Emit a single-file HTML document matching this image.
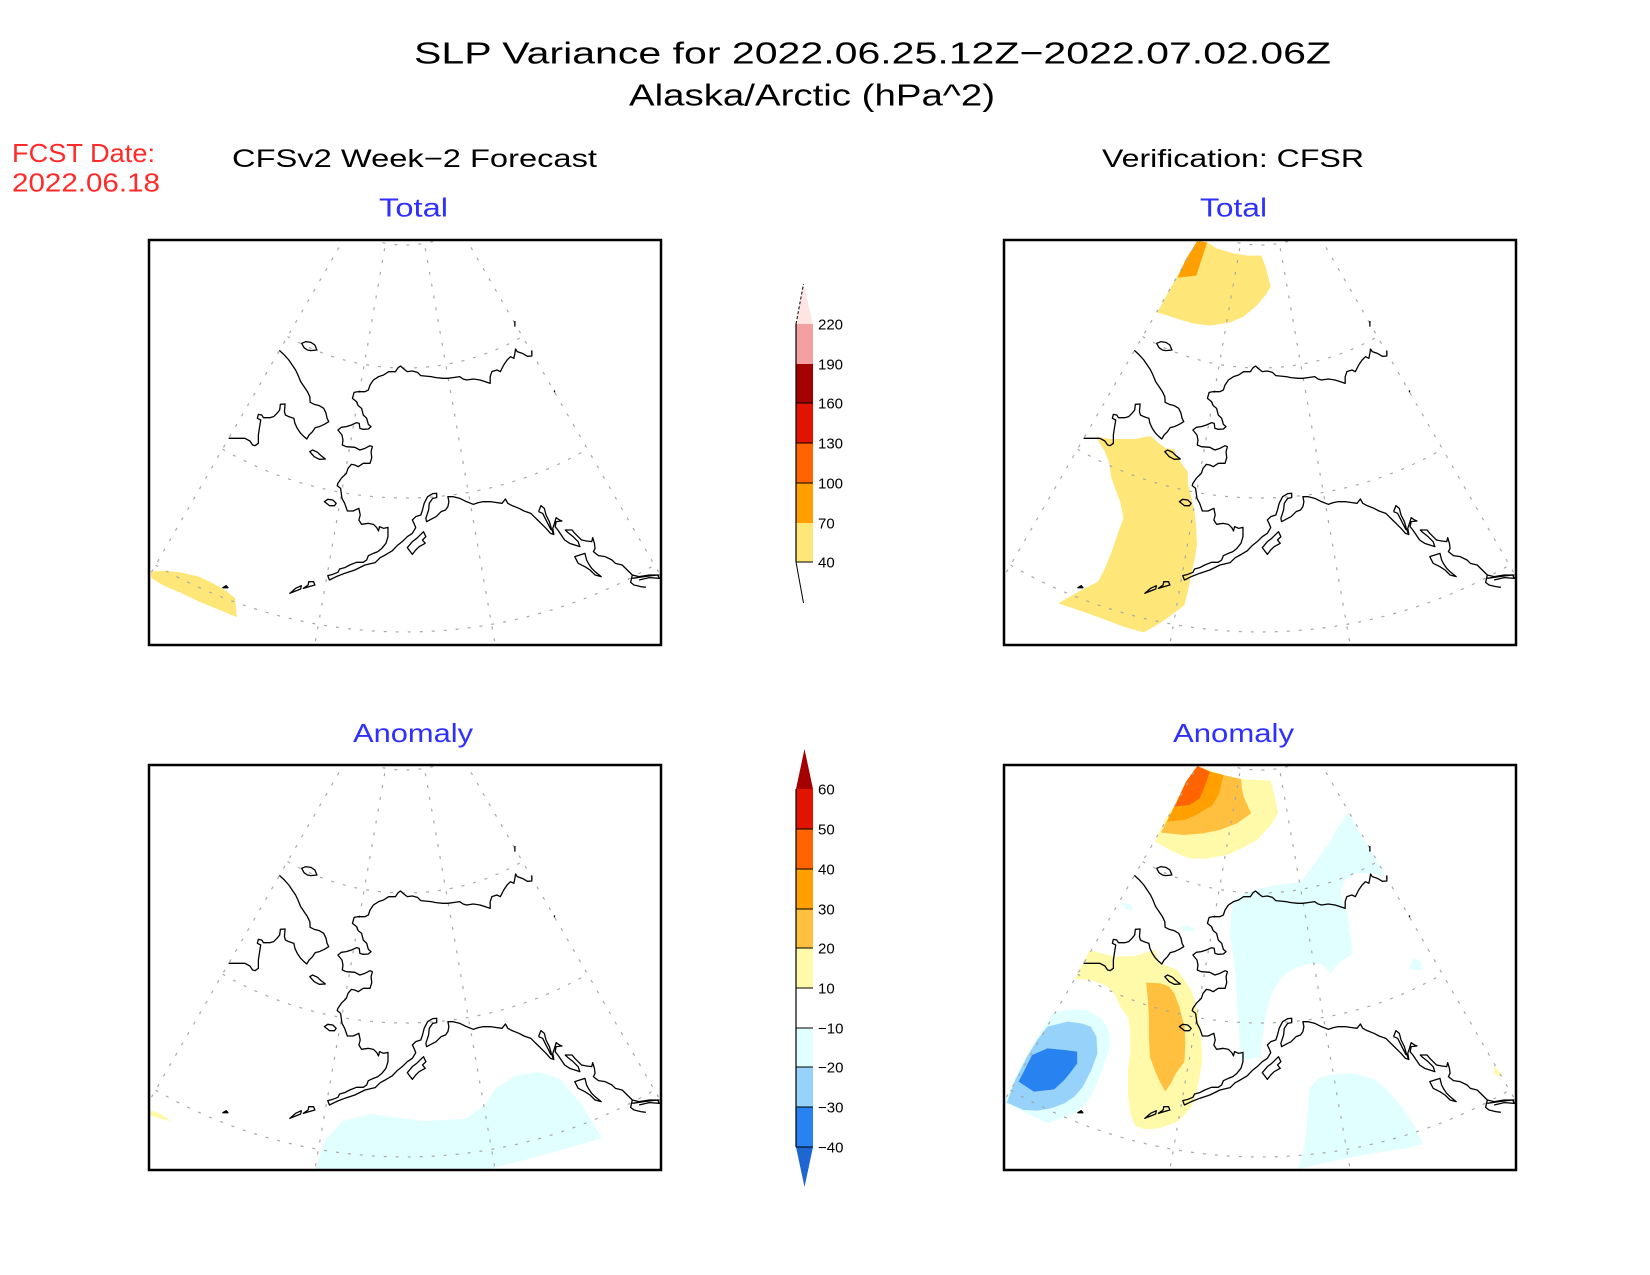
<!DOCTYPE html>
<html>
<head>
<meta charset="utf-8">
<style>
html,body{margin:0;padding:0;background:#fff;}
svg{display:block;}
text{font-family:"Liberation Sans",sans-serif;}
</style>
</head>
<body>
<svg width="1650" height="1275" viewBox="0 0 1650 1275" xmlns="http://www.w3.org/2000/svg">
<defs>
  <clipPath id="box"><rect x="0" y="0" width="512" height="405"/></clipPath>
  <g id="grid" fill="none" stroke="#a8a8a8" stroke-width="1.2" stroke-dasharray="3,9">
    <path d="M200,-10 A112,112 0 0 0 312,-10"/>
    <path d="M138.5,96.5 A235,235 0 0 0 373.5,96.5"/>
    <path d="M73.5,209.1 A365,365 0 0 0 438.5,209.1"/>
    <path d="M6.5,325.1 A499,499 0 0 0 505.5,325.1"/>
    <path d="M196,-3 L-44,412.6"/>
    <path d="M237.8,-3.6 L164,415"/>
    <path d="M274.2,-3.6 L348,415"/>
    <path d="M316,-3 L556,412.6"/>
  </g>
  <g id="coast" fill="none" stroke="#000" stroke-width="1.3" stroke-linejoin="round">
    <path vector-effect="non-scaling-stroke" d="M397,346 L410,358 L425,375 L435,390 L445,405 L452,420 L460,440 L470,455 L480,470 L487,485 L488,502 L500,508 L515,512 L528,520 L535,535 L538,550 L543,560 L530,568 L515,575 L503,578 L495,590 L485,600 L478,612 L470,605 L460,595 L450,580 L443,565 L440,550 L425,545 L415,540 L412,530 L414,507 L400,508 L398,525 L390,535 L380,545 L370,548 L350,548 L345,540 L335,538 L332,550 L342,555 L338,580 L335,600 L335,625 L325,632 L318,630 L310,618 L295,610 L247,610"/>
    <path vector-effect="non-scaling-stroke" d="M463,325 L475,320 L490,322 L502,330 L508,345 L490,347 L480,345 L470,338 Z"/>
    <path vector-effect="non-scaling-stroke" d="M1143,346 L1143,363 L1130,364 L1115,355 L1100,350 L1095,342 L1093,355 L1090,370 L1080,365 L1070,375 L1060,390 L1050,410 L1040,405 L1025,410 L1020,425 L1020,445 L1005,440 L990,435 L970,432 L950,435 L940,432 L930,425 L910,428 L895,430 L880,430 L860,428 L845,425 L815,422 L805,412 L790,408 L775,410 L765,402 L755,393 L748,398 L740,410 L720,410 L705,420 L690,425 L675,435 L665,450 L660,465 L650,470 L630,470 L618,472 L613,490 L625,500 L630,512 L640,520 L645,540 L655,550 L660,568 L668,575 L660,582 L645,583 L635,580 L633,565 L625,563 L610,570 L595,575 L580,577 L570,585 L582,600 L585,615 L583,630 L595,635 L620,637 L635,645 L650,640 L665,632 L672,635 L668,650 L670,668 L665,685 L645,685 L630,695 L620,690 L610,688 L600,700 L595,715 L580,730 L570,745 L568,752 L578,760 L580,775 L582,790 L590,805 L598,828 L615,828 L632,820 L636,840 L632,855 L640,868 L660,865 L675,868 L685,878 L690,888 L693,875 L705,880 L718,877 L718,905 L712,925 L700,940 L688,950 L675,955 L660,962 L655,975 L645,982 L625,982 L605,990 L590,998 L575,1002 L570,1012 L555,1018 L540,1022 L545,1035 L565,1025 L590,1015 L620,1005 L650,990 L680,983 L695,968 L710,960 L730,948 L745,932 L760,920 L775,905 L790,895 L800,878 L795,865 L790,855 L800,845 L815,840 L820,825 L825,805 L835,785 L850,776 L862,775 L862,788 L850,790 L840,805 L838,825 L830,850 L832,860 L845,853 L860,845 L875,830 L888,825 L895,815 L898,800 L895,785 L910,785 L930,790 L950,800 L970,808 L985,803 L1000,800 L1020,800 L1040,803 L1055,805 L1065,792 L1072,805 L1085,812 L1105,820 L1120,828 L1140,835 L1150,845 L1160,855 L1170,865 L1185,880 L1198,895 L1208,898 L1205,880 L1210,865 L1215,848 L1225,855 L1232,858 L1215,860 L1212,875 L1220,885 L1230,900 L1240,915 L1255,925 L1270,930 L1285,935 L1280,920 L1265,905 L1250,893 L1242,885 L1262,885 L1270,895 L1280,905 L1290,915 L1305,918 L1320,920 L1323,908 L1328,925 L1330,940 L1325,950 L1340,962 L1360,965 L1380,975 L1390,985 L1410,990 L1425,1005 L1440,1020 L1460,1025 L1490,1020 L1520,1020"/>
    <path vector-effect="non-scaling-stroke" d="M1163,830 L1170,812 L1180,820 L1185,840 L1195,860 L1200,878 L1208,900 M1163,830 L1175,835 L1190,865 L1200,885"/>
    <path vector-effect="non-scaling-stroke" d="M1270,965 L1285,960 L1300,955 L1305,975 L1310,985 L1320,1000 L1330,1010 L1348,1025 L1330,1020 L1315,1005 L1300,995 L1280,985 Z"/>
    <path vector-effect="non-scaling-stroke" d="M1440,1020 L1435,1042 L1445,1050 L1465,1055 L1480,1057 M1440,1030 L1475,1025 L1515,1020 L1520,1030 L1490,1028 L1460,1035"/>
    <path vector-effect="non-scaling-stroke" d="M775,938 L790,920 L803,910 L815,898 L823,890 L830,905 L820,915 L828,925 L810,935 L800,945 L790,958 Z"/>
    <path vector-effect="non-scaling-stroke" d="M530,800 L540,793 L555,795 L565,805 L560,812 L545,812 Z"/>
    <path vector-effect="non-scaling-stroke" d="M487,650 L495,645 L510,652 L520,662 L533,672 L515,673 L500,665 Z"/>
    <path vector-effect="non-scaling-stroke" d="M428,1075 L445,1060 L462,1052 L460,1062 L445,1068 Z M468,1060 L482,1050 L484,1040 L498,1040 L502,1050 L485,1055 Z M230,1058 L240,1052 L245,1058 Z"/>
    <path vector-effect="non-scaling-stroke" d="M1093,258 L1093,275 M1210,466 L1210,472"/>
  </g>
</defs>

<!-- Titles -->
<text x="414" y="63.5" font-size="31" textLength="917" lengthAdjust="spacingAndGlyphs" fill="#000">SLP Variance for 2022.06.25.12Z−2022.07.02.06Z</text>
<text x="629" y="105.5" font-size="31" textLength="366" lengthAdjust="spacingAndGlyphs" fill="#000">Alaska/Arctic (hPa^2)</text>
<text x="12" y="162" font-size="26" textLength="143" lengthAdjust="spacingAndGlyphs" fill="#ff2a2a">FCST Date:</text>
<text x="12" y="191.5" font-size="26" textLength="148" lengthAdjust="spacingAndGlyphs" fill="#ff2a2a">2022.06.18</text>
<text x="232" y="167" font-size="25" textLength="365" lengthAdjust="spacingAndGlyphs" fill="#000">CFSv2 Week−2 Forecast</text>
<text x="1102" y="167" font-size="25" textLength="262" lengthAdjust="spacingAndGlyphs" fill="#000">Verification: CFSR</text>
<text x="379" y="216.5" font-size="26" textLength="69" lengthAdjust="spacingAndGlyphs" fill="#2f2fff">Total</text>
<text x="1200" y="216.5" font-size="26" textLength="67" lengthAdjust="spacingAndGlyphs" fill="#2f2fff">Total</text>
<text x="353" y="742" font-size="26" textLength="120" lengthAdjust="spacingAndGlyphs" fill="#2f2fff">Anomaly</text>
<text x="1173" y="742" font-size="26" textLength="121" lengthAdjust="spacingAndGlyphs" fill="#2f2fff">Anomaly</text>

<!-- Panel 1: CFSv2 Total -->
<g transform="translate(149,240)">
  <g clip-path="url(#box)">
    <g transform="translate(-19,-10) scale(0.3448,0.3333)">
      <path fill="#ffe678" d="M60,1025 L100,1022 L150,1028 L200,1040 L240,1060 L275,1080 L305,1105 L310,1162 L260,1140 L200,1115 L150,1090 L100,1068 L62,1045 Z"/>
    </g>
    <use href="#grid"/>
    <g transform="translate(-4,-5) scale(0.33841,0.33333)"><use href="#coast"/></g>
  </g>
  <rect x="0" y="0" width="512" height="405" fill="none" stroke="#000" stroke-width="2.5"/>
</g>

<!-- Panel 2: CFSR Total -->
<g transform="translate(1004,240)">
  <g clip-path="url(#box)">
    <g transform="translate(-4,-5) scale(0.33841,0.33333)">
      <path fill="#ffe678" d="M583,18 L612,22 L640,40 L690,55 L730,62 L772,62 L785,95 L800,155 L785,180 L760,210 L720,245 L680,262 L620,272 L570,265 L520,250 L465,232 L490,185 L520,130 L555,65 Z"/>
      <path fill="#ffa000" d="M583,18 L612,22 L595,75 L580,122 L525,128 L548,75 Z"/>
      <path fill="#ffe678" d="M283,606 L330,612 L400,612 L445,603 L470,625 L490,640 L515,643 L520,660 L530,675 L545,698 L555,710 L555,745 L565,785 L575,830 L580,880 L582,930 L575,975 L565,1020 L555,1070 L545,1110 L520,1130 L480,1160 L425,1192 L365,1175 L300,1150 L240,1128 L172,1105 L215,1080 L250,1060 L290,1040 L310,1000 L330,950 L350,890 L365,850 L355,800 L340,760 L328,725 L322,680 L310,650 L295,625 Z"/>
    </g>
    <use href="#grid"/>
    <g transform="translate(-4,-5) scale(0.33841,0.33333)"><use href="#coast"/></g>
  </g>
  <rect x="0" y="0" width="512" height="405" fill="none" stroke="#000" stroke-width="2.5"/>
</g>

<!-- Panel 3: CFSv2 Anomaly -->
<g transform="translate(149,765)">
  <g clip-path="url(#box)">
    <path fill="#e1ffff" d="M166,405 L176,375 L194,356 L221,349 L273,356 L316,354 L337,339 L347,323 L368,310 L390,307 L411,314 L432,339 L453,373 L427,381 L379,394 L337,405 Z"/>
    <path fill="#fffaaa" d="M0,345 L10,348 L22,356 L12,354 L0,350 Z"/>
    <use href="#grid"/>
    <g transform="translate(-4,-5) scale(0.33841,0.33333)"><use href="#coast"/></g>
  </g>
  <rect x="0" y="0" width="512" height="405" fill="none" stroke="#000" stroke-width="2.5"/>
</g>

<!-- Panel 4: CFSR Anomaly -->
<g transform="translate(1004,765)">
  <g clip-path="url(#box)">
    <g transform="translate(-4,-5) scale(0.33841,0.33333)">
      <path fill="#fffaaa" d="M583,18 L615,28 L660,45 L712,57 L800,62 L810,100 L822,158 L800,195 L760,240 L720,262 L670,285 L610,296 L560,295 L510,275 L458,245 L485,185 L515,135 L550,65 Z"/>
      <path fill="#ffc040" d="M583,18 L620,35 L660,45 L712,57 L715,85 L720,110 L742,160 L700,190 L650,210 L600,220 L545,225 L475,218 L495,180 L515,140 L550,65 Z"/>
      <path fill="#ffa000" d="M583,18 L620,35 L660,45 L648,100 L628,135 L580,165 L545,180 L493,185 L515,140 L550,65 Z"/>
      <path fill="#ff6400" d="M583,18 L620,35 L605,80 L590,115 L560,135 L517,140 L550,65 Z"/>
      <path fill="#fffaaa" d="M265,570 L300,580 L340,590 L400,588 L440,575 L460,570 L470,610 L500,620 L525,630 L545,660 L565,690 L575,720 L585,760 L590,800 L595,850 L598,900 L590,950 L580,1000 L565,1040 L550,1060 L525,1085 L470,1105 L430,1108 L400,1098 L385,1060 L378,1000 L378,930 L385,880 L385,820 L380,775 L355,740 L340,705 L318,680 L270,660 L222,657 L240,620 Z"/>
      <path fill="#ffc040" d="M432,668 L475,670 L500,680 L515,700 L530,740 L545,800 L548,850 L545,905 L520,940 L505,970 L488,995 L470,960 L455,925 L443,890 L440,830 L440,770 L437,720 Z"/>
      <path fill="#e1ffff" d="M155,760 L200,748 L260,752 L300,775 L322,810 L325,860 L305,920 L280,985 L255,1030 L220,1060 L180,1075 L140,1090 L90,1065 L40,1040 L15,1025 L50,940 L100,850 L130,800 Z"/>
      <path fill="#96d2fa" d="M140,800 L200,785 L240,790 L268,800 L285,830 L288,880 L270,930 L245,980 L220,1010 L190,1030 L150,1045 L110,1052 L70,1050 L20,1028 L45,960 L80,890 L110,840 Z"/>
      <path fill="#2882f0" d="M140,865 L190,870 L228,875 L228,910 L210,935 L190,960 L160,988 L100,995 L55,965 L75,925 L95,885 Z"/>
      <path fill="#e1ffff" d="M1030,158 L1060,215 L1090,265 L1120,315 L1138,352 L1110,342 L1090,340 L1050,340 L1020,360 L1005,395 L1012,425 L1025,455 L1032,500 L1038,545 L1042,580 L1000,610 L975,640 L950,612 L910,612 L870,625 L835,650 L805,695 L790,740 L780,800 L772,860 L770,890 L750,895 L712,902 L708,850 L705,790 L700,720 L697,650 L690,590 L680,530 L682,470 L690,425 L720,400 L760,388 L800,378 L860,370 L890,365 L915,330 L945,290 L975,245 L1000,200 Z"/>
      <path fill="#e1ffff" d="M355,428 L385,432 L395,448 L375,450 Z"/>
      <path fill="#e1ffff" d="M530,500 L560,495 L577,515 L545,512 Z"/>
      <path fill="#e1ffff" d="M1208,628 L1222,596 L1245,605 L1247,630 Z"/>
      <path fill="#e1ffff" d="M915,985 L940,955 L975,945 L1040,940 L1100,955 L1140,985 L1170,1020 L1200,1060 L1225,1100 L1250,1152 L1200,1165 L1100,1180 L1000,1200 L930,1215 L880,1228 L895,1180 L905,1120 L910,1040 Z"/>
      <path fill="#fffaaa" d="M1460,918 L1472,930 L1485,950 L1462,945 Z"/>
    </g>
    <use href="#grid"/>
    <g transform="translate(-4,-5) scale(0.33841,0.33333)"><use href="#coast"/></g>
  </g>
  <rect x="0" y="0" width="512" height="405" fill="none" stroke="#000" stroke-width="2.5"/>
</g>

<!-- Colorbar 1 (Total) -->
<g>
  <polygon points="796,324 813,324 803.5,284" fill="#ffe4e4"/>
  <line x1="796" y1="324" x2="803.5" y2="284" stroke="#000" stroke-width="1" stroke-dasharray="3,2"/>
  <rect x="796" y="324" width="17" height="40" fill="#f4a0a0"/>
  <rect x="796" y="364" width="17" height="39" fill="#a50000"/>
  <rect x="796" y="403" width="17" height="40" fill="#e01400"/>
  <rect x="796" y="443" width="17" height="40" fill="#ff6400"/>
  <rect x="796" y="483" width="17" height="40" fill="#ffa000"/>
  <rect x="796" y="523" width="17" height="39" fill="#ffe678"/>
  <line x1="796" y1="562" x2="803.5" y2="603" stroke="#000" stroke-width="1"/>
  <line x1="796" y1="324" x2="796" y2="562" stroke="#000" stroke-width="1.2"/>
  <g stroke="#000" stroke-width="1">
    <line x1="796" y1="403" x2="813" y2="403"/>
    <line x1="796" y1="443" x2="813" y2="443"/>
    <line x1="796" y1="483" x2="813" y2="483"/>
    <line x1="796" y1="562" x2="813" y2="562"/>
  </g>
  <g font-size="15" fill="#000">
    <text x="818" y="329.5">220</text>
    <text x="818" y="369.5">190</text>
    <text x="818" y="408.5">160</text>
    <text x="818" y="448.5">130</text>
    <text x="818" y="488.5">100</text>
    <text x="818" y="528.5">70</text>
    <text x="818" y="567.5">40</text>
  </g>
</g>

<!-- Colorbar 2 (Anomaly) -->
<g>
  <polygon points="796,789 813,789 804.5,749" fill="#a50000"/>
  <rect x="796" y="789" width="17" height="40" fill="#e01400"/>
  <rect x="796" y="829" width="17" height="40" fill="#ff6400"/>
  <rect x="796" y="869" width="17" height="40" fill="#ffa000"/>
  <rect x="796" y="909" width="17" height="39" fill="#ffc040"/>
  <rect x="796" y="948" width="17" height="40" fill="#fffaaa"/>
  <rect x="796" y="988" width="17" height="40" fill="#ffffff"/>
  <rect x="796" y="1028" width="17" height="39" fill="#e1ffff"/>
  <rect x="796" y="1067" width="17" height="40" fill="#96d2fa"/>
  <rect x="796" y="1107" width="17" height="40" fill="#2882f0"/>
  <polygon points="796,1147 813,1147 804.5,1187" fill="#1e66d2"/>
  <line x1="796" y1="789" x2="796" y2="1147" stroke="#000" stroke-width="1.2"/>
  <g stroke="#000" stroke-width="1">
    <line x1="796" y1="829" x2="813" y2="829"/>
    <line x1="796" y1="869" x2="813" y2="869"/>
    <line x1="796" y1="909" x2="813" y2="909"/>
    <line x1="796" y1="948" x2="813" y2="948"/>
    <line x1="796" y1="988" x2="813" y2="988"/>
    <line x1="796" y1="1028" x2="813" y2="1028"/>
    <line x1="796" y1="1067" x2="813" y2="1067"/>
    <line x1="796" y1="1107" x2="813" y2="1107"/>
    <line x1="796" y1="1147" x2="813" y2="1147"/>
  </g>
  <g font-size="15" fill="#000">
    <text x="818" y="794.5">60</text>
    <text x="818" y="834.5">50</text>
    <text x="818" y="874.5">40</text>
    <text x="818" y="914.5">30</text>
    <text x="818" y="953.5">20</text>
    <text x="818" y="993.5">10</text>
    <text x="818" y="1033.5">−10</text>
    <text x="818" y="1072.5">−20</text>
    <text x="818" y="1112.5">−30</text>
    <text x="818" y="1152.5">−40</text>
  </g>
</g>
</svg>
</body>
</html>
